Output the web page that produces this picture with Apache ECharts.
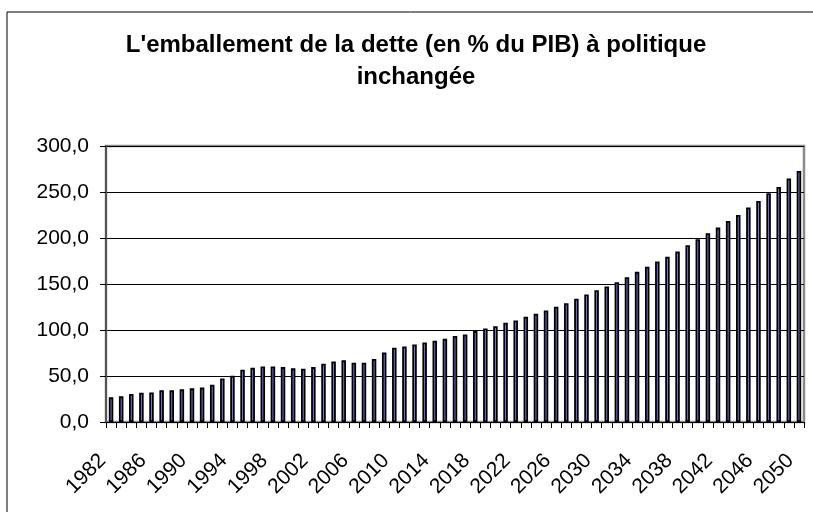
<!DOCTYPE html>
<html>
<head>
<meta charset="utf-8">
<script src="https://cdn.jsdelivr.net/npm/echarts@6/dist/echarts.min.js"></script>
<style>html,body{margin:0;padding:0;background:#fff}#c{width:813px;height:512px}</style>
</head>
<body>
<div id="c"></div>
<script>
var titleText = "L'emballement de la dette (en % du PIB) à politique\ninchangée";
var years = ["1982","1983","1984","1985","1986","1987","1988","1989","1990","1991","1992","1993","1994","1995","1996","1997","1998","1999","2000","2001","2002","2003","2004","2005","2006","2007","2008","2009","2010","2011","2012","2013","2014","2015","2016","2017","2018","2019","2020","2021","2022","2023","2024","2025","2026","2027","2028","2029","2030","2031","2032","2033","2034","2035","2036","2037","2038","2039","2040","2041","2042","2043","2044","2045","2046","2047","2048","2049","2050"];
var debt = [26.8,27.9,30.4,31.8,32.2,34.4,34.4,35.5,36.6,37.6,40.5,47.4,50.3,56.8,59.0,60.4,60.4,59.7,58.3,57.9,59.7,63.3,65.7,67.2,64.4,64.4,68.4,75.6,80.7,82.2,84.3,86.5,88.3,90.5,93.4,95.2,98.8,101.7,104.2,107.9,110.4,114.4,117.6,121.2,125.2,129.2,133.9,138.6,143.3,147.3,152.0,157.4,163.2,168.7,174.4,179.5,185.3,192.2,198.7,205.2,211.4,218.6,225.1,233.1,240.3,248.6,255.5,264.6,272.9];
var yTicks = {min: 0, max: 300, interval: 50};

var chart = echarts.init(document.getElementById('c'), null, {renderer: 'canvas'});
chart.setOption({
  animation: false,
  backgroundColor: '#ffffff',
  graphic: [{
    type: 'rect', z: -10, silent: true,
    shape: {x: 7, y: 12, width: 830, height: 520},
    style: {fill: 'none', stroke: '#000', lineWidth: 1}
  }],
  title: {
    text: titleText,
    left: 411,
    textAlign: 'center',
    top: 24,
    textStyle: {fontFamily: 'Liberation Sans, Arial, sans-serif', fontSize: 24, fontWeight: 'bold', color: '#000', lineHeight: 32}
  },
  grid: {left: 106, right: 9, top: 146, bottom: 90, show: true, borderColor: '#8a8a8a', borderWidth: 2.5, backgroundColor: 'transparent'},
  xAxis: {
    type: 'category',
    data: years,
    boundaryGap: true,
    axisLine: {show: true, lineStyle: {color: '#000', width: 1}},
    axisTick: {show: true, alignWithLabel: false, interval: 0, length: 6, lineStyle: {color: '#000'}},
    axisLabel: {interval: 3, rotate: 45, margin: 27, padding: [0, 12, 0, 0], fontFamily: 'Liberation Sans, Arial, sans-serif', fontSize: 21, color: '#000'},
    splitLine: {show: false}
  },
  yAxis: {
    type: 'value',
    min: yTicks.min, max: yTicks.max, interval: yTicks.interval,
    axisLine: {show: true, lineStyle: {color: '#555', width: 2}},
    axisTick: {show: true, length: 6, lineStyle: {color: '#000'}},
    axisLabel: {margin: 17, fontFamily: 'Liberation Sans, Arial, sans-serif', fontSize: 21, color: '#000',
      formatter: function (v) { return v.toFixed(1).replace('.', ','); }},
    splitLine: {show: true, lineStyle: {color: '#000', width: 1}}
  },
  series: [{
    type: 'bar',
    data: debt,
    barWidth: 4.5,
    itemStyle: {color: '#8080e4', borderColor: '#000', borderWidth: 1.8}
  }]
});
</script>
</body>
</html>
